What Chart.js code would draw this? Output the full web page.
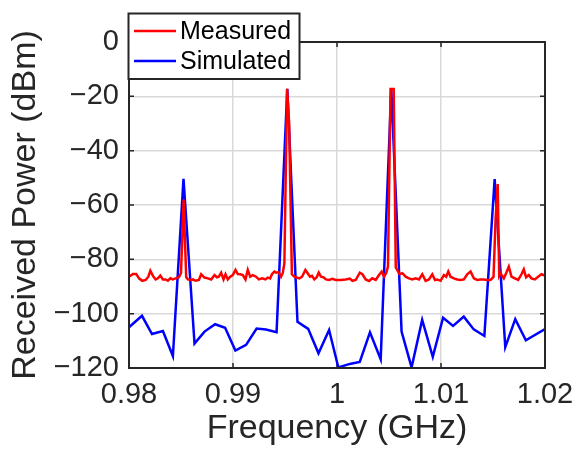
<!DOCTYPE html>
<html>
<head>
<meta charset="utf-8">
<title>Received power spectrum</title>
<script src="https://cdn.jsdelivr.net/npm/chart.js@4"></script>
<style>
  html, body { margin: 0; padding: 0; background: #fff; }
</style>
</head>
<body>
<canvas id="myChart" width="577" height="450"></canvas>
<script>
// measured spectrum (GHz, dBm)
var measuredFreq = [
  0.98000, 0.98038, 0.98070, 0.98096, 0.98128, 0.98160, 0.98186, 0.98205, 0.98230, 0.98256,
  0.98278, 0.98301, 0.98326, 0.98352, 0.98374, 0.98397, 0.98422, 0.98448, 0.98480, 0.98500,
  0.98525, 0.98550, 0.98566, 0.98589, 0.98614, 0.98640, 0.98672, 0.98694, 0.98726, 0.98758,
  0.98790, 0.98822, 0.98845, 0.98864, 0.98886, 0.98909, 0.98928, 0.98950, 0.98973, 0.98998,
  0.99024, 0.99046, 0.99069, 0.99094, 0.99120, 0.99142, 0.99165, 0.99190, 0.99222, 0.99248,
  0.99280, 0.99312, 0.99334, 0.99357, 0.99376, 0.99398, 0.99414, 0.99440, 0.99462, 0.99478,
  0.99494, 0.99520, 0.99540, 0.99566, 0.99590, 0.99613, 0.99638, 0.99664, 0.99696, 0.99718,
  0.99741, 0.99760, 0.99782, 0.99805, 0.99824, 0.99846, 0.99869, 0.99894, 0.99924, 0.99956,
  0.99988, 1.00036, 1.00084, 1.00123, 1.00148, 1.00180, 1.00219, 1.00244, 1.00276, 1.00308,
  1.00340, 1.00372, 1.00404, 1.00430, 1.00452, 1.00474, 1.00490, 1.00515, 1.00545, 1.00565,
  1.00602, 1.00628, 1.00660, 1.00692, 1.00724, 1.00756, 1.00788, 1.00820, 1.00852, 1.00884,
  1.00916, 1.00942, 1.00964, 1.00996, 1.01028, 1.01050, 1.01070, 1.01092, 1.01124, 1.01156,
  1.01188, 1.01220, 1.01252, 1.01284, 1.01316, 1.01348, 1.01380, 1.01412, 1.01444, 1.01476,
  1.01505, 1.01525, 1.01545, 1.01560, 1.01572, 1.01604, 1.01626, 1.01652, 1.01678, 1.01710,
  1.01742, 1.01774, 1.01796, 1.01818, 1.01844, 1.01870, 1.01902, 1.01934, 1.01966, 1.02000
];
var measuredPower = [
  -86.4, -85.4, -85.4, -87.0, -87.9, -87.6, -86.4, -84.2, -86.1, -87.4,
  -87.0, -86.0, -87.4, -87.4, -87.9, -87.0, -87.4, -87.0, -86.6, -85.0,
  -58.0, -86.5, -87.4, -87.6, -87.4, -87.9, -87.6, -85.5, -86.7, -87.0,
  -87.4, -85.8, -86.6, -86.4, -84.9, -87.4, -85.5, -87.4, -86.4, -85.8,
  -83.9, -85.4, -85.5, -85.8, -87.4, -83.9, -86.4, -85.8, -86.4, -87.4,
  -87.0, -87.4, -86.7, -87.0, -85.4, -84.5, -84.9, -84.7, -86.4, -85.1,
  -81.5, -17.2, -30.0, -85.5, -86.4, -86.7, -87.0, -86.4, -83.9, -85.1,
  -86.4, -86.1, -87.4, -86.6, -84.9, -86.4, -86.6, -87.4, -87.6, -87.2,
  -87.6, -87.6, -87.4, -87.1, -87.9, -87.6, -84.9, -85.5, -87.4, -88.0,
  -87.0, -87.6, -85.8, -84.5, -86.4, -84.9, -82.7, -17.3, -17.3, -83.0,
  -85.5, -85.1, -86.4, -87.0, -87.4, -87.0, -87.4, -85.5, -87.9, -87.4,
  -85.5, -87.6, -87.4, -87.9, -85.8, -86.4, -84.5, -86.4, -87.0, -87.4,
  -87.6, -87.4, -85.5, -84.5, -87.0, -87.6, -87.4, -87.4, -87.6, -87.6,
  -86.5, -65.0, -52.3, -86.0, -85.1, -87.0, -85.1, -82.7, -86.4, -87.0,
  -87.6, -85.5, -83.7, -86.6, -85.8, -87.0, -87.4, -86.4, -85.5, -86.0
];

// simulated spectrum (GHz, dBm)
var simulatedFreq = [
  0.98000, 0.98125, 0.98221, 0.98326, 0.98422, 0.98524, 0.98630, 0.98726, 0.98828, 0.98924,
  0.99023, 0.99126, 0.99227, 0.99317, 0.99419, 0.99522, 0.99620, 0.99723, 0.99822, 0.99924,
  1.00013, 1.00123, 1.00219, 1.00317, 1.00420, 1.00522, 1.00621, 1.00717, 1.00819, 1.00921,
  1.01020, 1.01116, 1.01219, 1.01315, 1.01417, 1.01516, 1.01618, 1.01714, 1.01816, 1.02000
];
var simulatedPower = [
  -105.0, -100.8, -107.5, -106.4, -115.6, -50.4, -111.0, -106.6, -103.9, -105.2,
  -113.6, -111.5, -105.5, -105.8, -106.8, -17.2, -103.0, -105.6, -114.6, -106.0,
  -119.8, -118.5, -117.8, -106.9, -116.8, -17.4, -106.6, -119.8, -102.3, -115.9,
  -101.5, -104.5, -101.1, -105.8, -108.2, -50.5, -112.3, -102.0, -109.8, -105.7
];

var xTicks = [0.98, 0.99, 1, 1.01, 1.02];
var yTicks = [-120, -100, -80, -60, -40, -20, 0];

var axisColor = "#262626";
var fontFamily = "'Liberation Sans', Arial, sans-serif";

function toPoints(xs, ys) {
  return xs.map(function (f, i) { return { x: f, y: ys[i] }; });
}

// inward tick marks on all four sides, plus the closed axes box
var axesBox = {
  id: "axesBox",
  beforeDatasetsDraw: function (chart) {
    var ctx = chart.ctx, a = chart.chartArea;
    var x = chart.scales.x, y = chart.scales.y;
    ctx.save();
    ctx.strokeStyle = axisColor;
    ctx.lineWidth = 1.5;
    ctx.beginPath();
    xTicks.forEach(function (v) {
      var px = x.getPixelForValue(v);
      ctx.moveTo(px, a.bottom); ctx.lineTo(px, a.bottom - 5);
      ctx.moveTo(px, a.top); ctx.lineTo(px, a.top + 5);
    });
    yTicks.forEach(function (v) {
      var py = y.getPixelForValue(v);
      ctx.moveTo(a.left, py); ctx.lineTo(a.left + 5, py);
      ctx.moveTo(a.right, py); ctx.lineTo(a.right - 5, py);
    });
    ctx.stroke();
    ctx.restore();
  },
  afterDatasetsDraw: function (chart) {
    var ctx = chart.ctx, a = chart.chartArea;
    ctx.save();
    ctx.strokeStyle = axisColor;
    ctx.lineWidth = 2;
    ctx.strokeRect(a.left, a.top, a.right - a.left, a.bottom - a.top);
    ctx.restore();
  }
};

// legend box in the upper left corner
var cornerLegend = {
  id: "cornerLegend",
  afterDraw: function (chart) {
    var ctx = chart.ctx;
    ctx.save();
    ctx.fillStyle = "#fff";
    ctx.fillRect(128.5, 13.5, 171, 65.5);
    ctx.strokeStyle = axisColor;
    ctx.lineWidth = 2;
    ctx.strokeRect(128.5, 13.5, 171, 65.5);
    ctx.font = "25px " + fontFamily;
    ctx.textBaseline = "middle";
    chart.data.datasets.forEach(function (ds, i) {
      var cy = 31 + i * 30;
      ctx.strokeStyle = ds.borderColor;
      ctx.lineWidth = 2.5;
      ctx.beginPath();
      ctx.moveTo(134, cy);
      ctx.lineTo(176, cy);
      ctx.stroke();
      ctx.fillStyle = "#000";
      ctx.fillText(ds.label, 180, cy + 1);
    });
    ctx.restore();
  }
};

new Chart("myChart", {
  type: "line",
  data: {
    datasets: [{
      label: "Measured",
      data: toPoints(measuredFreq, measuredPower),
      borderColor: "#ff0000",
      borderWidth: 2.5,
      pointRadius: 0,
      tension: 0
    }, {
      label: "Simulated",
      data: toPoints(simulatedFreq, simulatedPower),
      borderColor: "#0000ff",
      borderWidth: 2.5,
      pointRadius: 0,
      tension: 0
    }]
  },
  options: {
    responsive: false,
    animation: false,
    events: [],
    layout: { padding: { left: 0, top: 42, right: 32, bottom: 0 } },
    plugins: {
      legend: { display: false },
      tooltip: { enabled: false }
    },
    scales: {
      x: {
        type: "linear",
        min: 0.98,
        max: 1.02,
        afterFit: function (s) {
          s.height = 82;
          s.paddingLeft = 0;
          s.paddingRight = 0;
        },
        afterBuildTicks: function (s) {
          s.ticks = xTicks.map(function (v) { return { value: v }; });
        },
        grid: { color: "#d9d9d9", lineWidth: 1.5, drawTicks: false },
        border: { display: false },
        ticks: {
          padding: 10,
          maxRotation: 0,
          color: axisColor,
          font: { family: fontFamily, size: 29 },
          callback: function (v) { return String(Math.round(v * 100) / 100); }
        },
        title: {
          display: true,
          text: "Frequency (GHz)",
          color: axisColor,
          font: { family: fontFamily, size: 34 },
          padding: { top: 0, bottom: 1 }
        }
      },
      y: {
        type: "linear",
        min: -120,
        max: 0,
        afterFit: function (s) {
          s.width = 129;
          s.paddingTop = 0;
          s.paddingBottom = 0;
        },
        afterBuildTicks: function (s) {
          s.ticks = yTicks.map(function (v) { return { value: v }; });
        },
        grid: { color: "#d9d9d9", lineWidth: 1.5, drawTicks: false },
        border: { display: false },
        ticks: {
          padding: 10,
          color: axisColor,
          font: { family: fontFamily, size: 29 },
          callback: function (v) { return String(v).replace("-", "\u2212"); }
        },
        title: {
          display: true,
          text: "Received Power (dBm)",
          color: axisColor,
          font: { family: fontFamily, size: 34 },
          padding: { top: 5, bottom: 0 }
        }
      }
    }
  },
  plugins: [axesBox, cornerLegend]
});
</script>
</body>
</html>
